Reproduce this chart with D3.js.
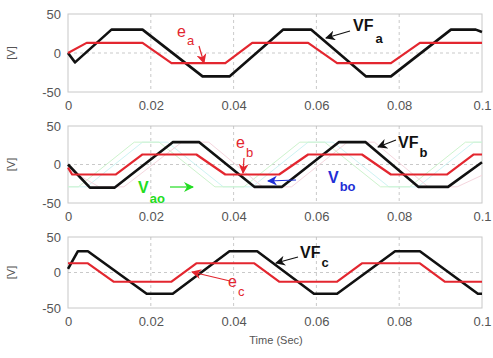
<!DOCTYPE html>
<html>
<head>
<meta charset="utf-8">
<script src="https://cdn.jsdelivr.net/npm/d3@7"></script>
<style>
body { margin: 0; background: #fff; }
text { font-family: "Liberation Sans", Arial, sans-serif; }
</style>
</head>
<body>
<svg id="chart" width="493" height="358"></svg>
<script>
// tick values and labels
var xTicks = [0, 0.02, 0.04, 0.06, 0.08, 0.1];
var xTickLabels = ["0", "0.02", "0.04", "0.06", "0.08", "0.1"];
var yTicks = [-50, 0, 50];
var yTickLabels = ["-50", "0", "50"];

// phase a  [time, volts]
var ea  = [[0,0],[0.0045,13],[0.018,13],[0.025,-13],[0.038,-13],[0.0445,13],[0.058,13],[0.065,-13],[0.078,-13],[0.085,13],[0.1,13]];
var vfa = [[0,0],[0.0017,-12],[0.0105,30],[0.018,30],[0.0325,-30],[0.039,-30],[0.052,30],[0.0587,30],[0.072,-30],[0.078,-30],[0.0925,30],[0.0985,30],[0.1,27]];

// phase b
var eb  = [[0,-4],[0.001,-13],[0.0115,-13],[0.018,13],[0.031,13],[0.038,-13],[0.051,-13],[0.058,13],[0.071,13],[0.078,-13],[0.0915,-13],[0.098,13],[0.1,13]];
var vfb = [[0,0],[0.0053,-30],[0.0113,-30],[0.0253,29],[0.0317,29],[0.045,-29],[0.0517,-29],[0.0654,29],[0.0719,29],[0.0846,-29],[0.0918,-29],[0.1,3]];
// faint traces behind phase b
var vao  = [[0,-29],[0.0025,-29],[0.016,29],[0.022,29],[0.0355,-29],[0.0425,-29],[0.056,29],[0.062,29],[0.0755,-29],[0.0825,-29],[0.096,29],[0.1,29]];
var vco  = [[0,-29],[0.0045,-29],[0.018,29],[0.024,29],[0.0375,-29],[0.0445,-29],[0.058,29],[0.064,29],[0.0775,-29],[0.0845,-29],[0.098,29],[0.1,29]];
var vbo  = [[0,-6],[0.0075,-29],[0.0135,-29],[0.0275,29],[0.034,29],[0.047,-29],[0.054,-29],[0.0675,29],[0.074,29],[0.087,-29],[0.094,-29],[0.1,-14]];

// phase c
var ec  = [[0,13],[0.0048,13],[0.011,-13],[0.025,-13],[0.031,13],[0.045,13],[0.051,-13],[0.065,-13],[0.071,13],[0.085,13],[0.091,-13],[0.1,-13]];
var vfc = [[0,5],[0.0024,30],[0.0048,30],[0.019,-30],[0.0253,-30],[0.039,30],[0.0457,30],[0.0594,-30],[0.065,-30],[0.079,30],[0.085,30],[0.099,-30],[0.1,-30]];

var svg = d3.select("#chart");
var x = d3.scaleLinear().domain([0, 0.1]).range([68, 482]);

var defs = svg.append("defs");
function marker(id, col) {
    defs.append("marker")
        .attr("id", id)
        .attr("viewBox", "0 0 10 10")
        .attr("refX", 9).attr("refY", 5)
        .attr("markerWidth", 10).attr("markerHeight", 10)
        .attr("markerUnits", "userSpaceOnUse")
        .attr("orient", "auto")
      .append("path")
        .attr("d", "M0,0 L10,5 L0,10 L3,5 Z")
        .attr("fill", col);
}
marker("arrBlack", "#111");
marker("arrRed", "#e3262f");
marker("arrGreen", "#22dd22");
marker("arrBlue", "#1f2fd6");

var panels = [
    {top: 14,  bottom: 92,  faint: [], main: [ea, vfa]},
    {top: 126, bottom: 203, faint: [[vco, "#cdf3f3"], [vao, "#cdf3cd"], [vbo, "#f5d6de"]], main: [eb, vfb]},
    {top: 237, bottom: 308, faint: [], main: [ec, vfc]}
];

panels.forEach(function(p) {
    var y = d3.scaleLinear().domain([-50, 50]).range([p.bottom, p.top]);
    var g = svg.append("g");

    // box
    g.append("rect")
        .attr("x", x(0)).attr("y", y(50))
        .attr("width", x(0.1) - x(0)).attr("height", y(-50) - y(50))
        .attr("fill", "#fff").attr("stroke", "#c8c8c8").attr("stroke-width", 1);

    // grid
    g.selectAll(".vg").data(xTicks.slice(1, -1)).enter().append("line")
        .attr("x1", d => x(d)).attr("x2", d => x(d))
        .attr("y1", y(50)).attr("y2", y(-50))
        .attr("stroke", "#bbb").attr("stroke-width", 0.8).attr("stroke-dasharray", "3,3");
    g.append("line")
        .attr("x1", x(0)).attr("x2", x(0.1))
        .attr("y1", y(0)).attr("y2", y(0))
        .attr("stroke", "#bbb").attr("stroke-width", 0.8).attr("stroke-dasharray", "3,3");

    // axes
    var xa = d3.axisBottom(x).tickValues(xTicks).tickFormat((d, i) => xTickLabels[i]).tickSize(0).tickPadding(9);
    g.append("g").attr("transform", "translate(0," + y(-50) + ")").call(xa)
        .call(s => s.select(".domain").remove())
        .selectAll("text").attr("font-size", 13).attr("fill", "#555")
        .attr("font-family", "Liberation Sans, Arial, sans-serif");
    var ya = d3.axisLeft(y).tickValues(yTicks).tickFormat((d, i) => yTickLabels[i]).tickSize(0).tickPadding(7);
    g.append("g").attr("transform", "translate(" + x(0) + ",0)").call(ya)
        .call(s => s.select(".domain").remove())
        .selectAll("text").attr("font-size", 13).attr("fill", "#555")
        .attr("font-family", "Liberation Sans, Arial, sans-serif");

    g.append("text")
        .attr("transform", "translate(15," + y(0) + ") rotate(-90)")
        .attr("text-anchor", "middle").attr("font-size", 11).attr("fill", "#555")
        .text("[V]");

    var line = d3.line().x(d => x(d[0])).y(d => y(d[1]));
    p.faint.forEach(function(f) {
        g.append("path").attr("d", line(f[0])).attr("fill", "none")
            .attr("stroke", f[1]).attr("stroke-width", 1);
    });
    g.append("path").attr("d", line(p.main[1])).attr("fill", "none")
        .attr("stroke", "#111").attr("stroke-width", 2.6).attr("stroke-linejoin", "round");
    g.append("path").attr("d", line(p.main[0])).attr("fill", "none")
        .attr("stroke", "#e3262f").attr("stroke-width", 2.2).attr("stroke-linejoin", "round");
});

svg.append("text")
    .attr("x", 276).attr("y", 344)
    .attr("text-anchor", "middle").attr("font-size", 11).attr("fill", "#555")
    .text("Time (Sec)");

// annotations
function label(x0, y0, main, sub, col, bold, dx, dy) {
    var t = svg.append("text").attr("x", x0).attr("y", y0)
        .attr("fill", col).attr("font-size", 16)
        .attr("font-weight", bold ? "bold" : "normal");
    t.append("tspan").text(main);
    t.append("tspan").attr("dx", dx).attr("dy", dy).attr("font-size", 13).text(sub);
}
function arrow(x1, y1, x2, y2, col, id) {
    svg.append("line")
        .attr("x1", x1).attr("y1", y1).attr("x2", x2).attr("y2", y2)
        .attr("stroke", col).attr("stroke-width", 1.2)
        .attr("marker-end", "url(#" + id + ")");
}

label(177, 37, "e", "a", "#e3262f", false, 1, 8);
arrow(199, 46, 204, 63, "#e3262f", "arrRed");
label(353, 31, "VF", "a", "#111", true, 2, 12);
arrow(350, 31, 326, 38, "#111", "arrBlack");

label(236, 148, "e", "b", "#e3262f", false, 1, 9);
arrow(244, 158, 243, 173, "#e3262f", "arrRed");
label(398, 148, "VF", "b", "#111", true, 1, 9);
arrow(396, 140, 378, 147, "#111", "arrBlack");
label(138, 193, "V", "ao", "#22dd22", true, 1, 10);
arrow(170, 187, 193, 187, "#22dd22", "arrGreen");
label(328, 183, "V", "bo", "#1f2fd6", true, 1, 8);
arrow(296, 180, 268, 181, "#1f2fd6", "arrBlue");

label(300, 258, "VF", "c", "#111", true, 1, 9);
arrow(298, 257, 276, 263, "#111", "arrBlack");
label(228, 287, "e", "c", "#e3262f", false, 1, 9);
arrow(230, 281, 192, 272, "#e3262f", "arrRed");
</script>
</body>
</html>
